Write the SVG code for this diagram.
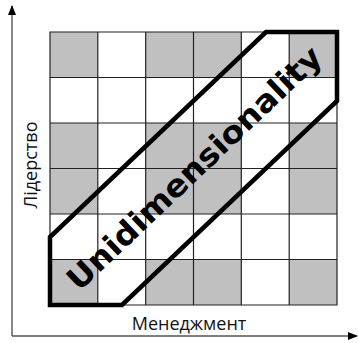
<svg xmlns="http://www.w3.org/2000/svg" width="358" height="343" viewBox="0 0 358 343">
<style>
.g{fill:#c0c0c0}
.grid{stroke:#222;stroke-width:1.2;fill:none}
.axis{stroke:#555;stroke-width:1.4;fill:none}
.lbl{font-family:"Open Sans","DejaVu Sans",sans-serif;font-size:18px;fill:#111}
.big{font-family:"DejaVu Sans","Liberation Sans",sans-serif;font-weight:bold;font-size:31px;fill:#000}
</style>
<defs>
<marker id="ah" markerWidth="10" markerHeight="8" refX="9" refY="4" orient="auto" markerUnits="userSpaceOnUse">
<path d="M0,0 L10,4 L0,8 Z" fill="#000"/>
</marker>
</defs>
<rect width="358" height="343" fill="#fff"/>
<g id="grid">
<rect class="g" x="50" y="32" width="47.8" height="45.5"/>
<rect class="g" x="145.7" y="32" width="95.7" height="45.5"/>
<rect class="g" x="289.2" y="32" width="47.8" height="45.5"/>
<rect class="g" x="50" y="123" width="47.8" height="91"/>
<rect class="g" x="145.7" y="123" width="95.7" height="91"/>
<rect class="g" x="289.2" y="123" width="47.8" height="91"/>
<rect class="g" x="50" y="259.5" width="47.8" height="45.5"/>
<rect class="g" x="145.7" y="259.5" width="95.7" height="45.5"/>
<rect class="g" x="289.2" y="259.5" width="47.8" height="45.5"/>
<path class="grid" d="M50,32H337V305H50Z M97.8,32V305 M145.7,32V305 M193.5,32V305 M241.3,32V305 M289.2,32V305 M50,77.5H337 M50,123H337 M50,168.5H337 M50,214H337 M50,259.5H337"/>
</g>
<g id="connectors">
<path class="axis" d="M12,336V6" marker-end="url(#ah)"/>
<path class="axis" d="M12,336H357" marker-end="url(#ah)"/>
</g>
<g id="band">
<path d="M50,237 L50,305 L122,305 L337,101 L337,32 L266,32 Z" fill="none" stroke="#000" stroke-width="4.5" stroke-linejoin="miter"/>
<text class="big" transform="translate(194,168) rotate(-43.5)" x="0" y="11" text-anchor="middle" textLength="338" lengthAdjust="spacingAndGlyphs">Unidimensionality</text>
</g>
<g id="labels">
<text class="lbl" transform="translate(37,165) rotate(-90)" text-anchor="middle">Лідерство</text>
<text class="lbl" x="189" y="330" text-anchor="middle">Менеджмент</text>
</g>
</svg>
